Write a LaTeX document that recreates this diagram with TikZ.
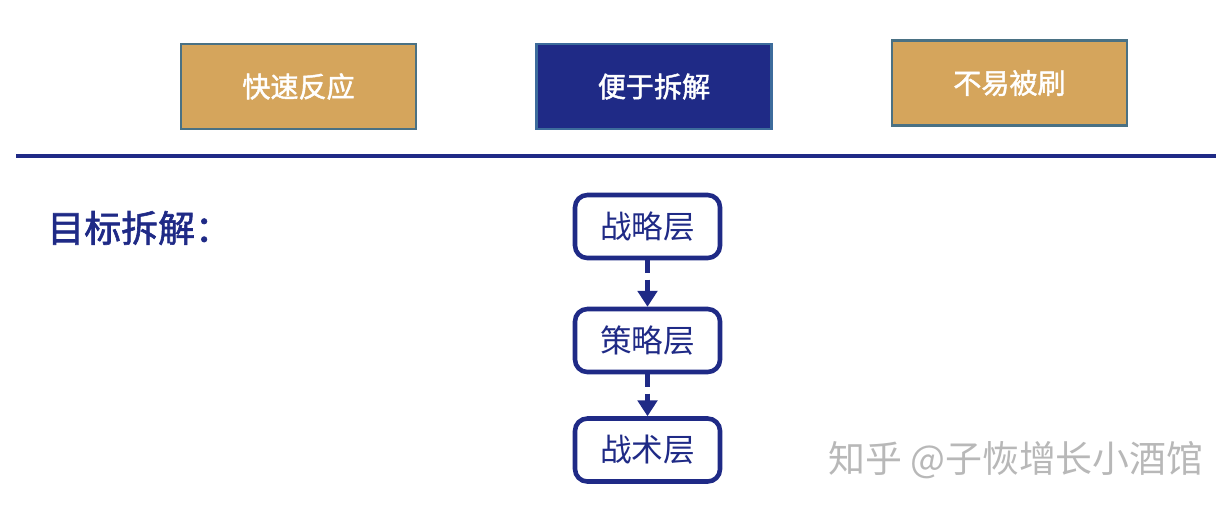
\documentclass[tikz,border=0pt]{standalone}
\usepackage{fontspec}
\newfontfamily\cjk{Noto Sans CJK SC}
\newfontfamily\cjkmed{Noto Sans CJK SC}[FakeBold=1.6]
\usetikzlibrary{positioning,arrows.meta}
\definecolor{navy}{HTML}{1F2A86}
\definecolor{tan}{HTML}{D5A55C}
\definecolor{edgeteal}{HTML}{4A7184}
\definecolor{edgeblue}{HTML}{3D6C9C}
\begin{document}
\begin{tikzpicture}[x=0.02cm,y=-0.02cm,
    topbox/.style={draw=edgeteal,line width=1.2pt,fill=tan,minimum width=4.7cm,minimum height=1.7cm,text=white,font=\cjkmed\fontsize{16}{16}\selectfont},
    layerbox/.style={draw=navy,line width=2.6pt,rounded corners=7pt,fill=white,minimum width=2.9cm,minimum height=1.26cm,text=navy,font=\cjk\fontsize{18}{18}\selectfont},
    flow/.style={-{Triangle[length=9pt,width=11pt]},navy,line width=3.4pt,dash pattern=on 7pt off 4pt}]
    % page frame
    \useasboundingbox (0,0) rectangle (1226,508);

    % top row of boxes
    \node[topbox] (fast) at (298.5,86.5) {快速反应};
    \node[topbox,fill=navy,draw=edgeblue] (split) at (654,86.5) {便于拆解};
    \node[topbox] (hard) at (1009.5,83) {不易被刷};

    % divider line
    \draw[navy,line width=2.4pt] (16,156) -- (1216,156);

    % title on the left
    \node[anchor=west,text=navy,font=\cjkmed\fontsize{21}{21}\selectfont,inner sep=0pt] (goal) at (47,228) {目标拆解：};

    % the three layers
    \node[layerbox] (strategy) at (647.5,226.5) {战略层};
    \node[layerbox] (policy) at (647.5,340.5) {策略层};
    \node[layerbox] (tactic) at (647.5,450) {战术层};

    \draw[flow] (strategy) -- (policy);
    \draw[flow] (policy) -- (tactic);

    % watermark
    \node[anchor=west,text=black!28,font=\cjk\fontsize{21}{21}\selectfont,inner sep=0pt] (mark) at (828,460) {知乎 @子恢增长小酒馆};
\end{tikzpicture}
\end{document}
